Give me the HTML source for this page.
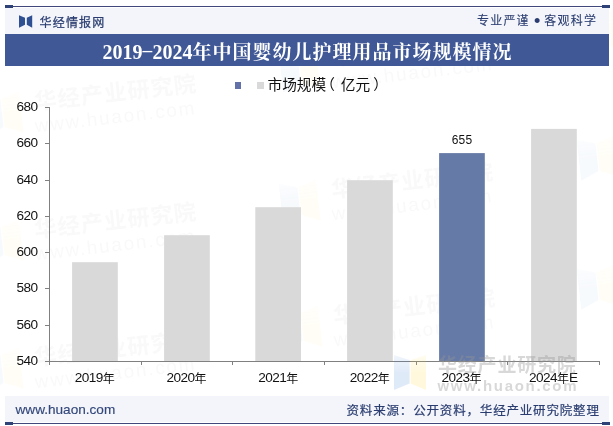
<!DOCTYPE html>
<html lang="zh-CN">
<head>
<meta charset="utf-8">
<title>2019-2024年中国婴幼儿护理用品市场规模情况</title>
<style>
html,body{margin:0;padding:0;background:#fff;overflow:hidden;}
body{width:613px;height:426px;position:relative;overflow:hidden;font-family:"Liberation Sans","Noto Sans CJK SC",sans-serif;color:#111;}
.abs{position:absolute;white-space:nowrap;}
#topline{left:5px;top:6px;width:604px;height:1px;background:#41487b;}
#topl{left:5px;top:5px;width:8px;height:3px;background:#2f4278;}
#topr{left:602px;top:5px;width:8px;height:3px;background:#2f4278;}
#hdr{left:5px;top:8px;width:604px;height:26px;background:#f3f5fa;}
#brand{left:39.5px;top:10px;height:26px;line-height:26px;font-size:12px;color:#2b3d70;letter-spacing:1.2px;-webkit-text-stroke:0.25px #2b3d70;}
#slogan{left:477px;top:8px;height:26px;line-height:26px;font-size:12px;color:#2b3d70;letter-spacing:1.2px;-webkit-text-stroke:0.1px #2b3d70;}
.dot{display:inline-block;width:14.5px;text-align:center;font-size:18px;letter-spacing:0;line-height:26px;vertical-align:top;position:relative;top:0px;}
#title{left:5px;top:34px;width:604px;height:32px;background:#405896;color:#fff;text-align:center;
  font-family:"Liberation Serif","Noto Serif CJK SC",serif;font-weight:bold;font-size:20px;line-height:36px;}
#title .cj{font-size:19px;letter-spacing:1px;margin-right:-1px;}
#title .hy{display:inline-block;width:10px;text-align:center;}
#title .hy i{display:inline-block;font-style:normal;transform:translateY(-2px) scale(1.9,0.7);}
.lg{width:6.5px;height:6.5px;top:82px;}
#lgtxt{left:267.5px;top:75px;font-size:14.67px;line-height:20px;color:#111;}
#lgtxt span{position:relative;}
.yl{left:0;width:37.5px;text-align:right;font-size:13.6px;letter-spacing:-0.55px;line-height:16px;}
.xl{width:92px;text-align:center;font-size:13.6px;letter-spacing:-0.55px;line-height:16px;top:370px;}
.xl .y{position:relative;top:0.5px;letter-spacing:0;font-size:12px;}
#dl{left:416px;width:92px;text-align:center;top:133px;font-size:12px;letter-spacing:0.1px;line-height:14px;}
#ftr{left:5px;top:396px;width:604px;height:26px;background:#f3f5fa;}
#site{left:15.5px;top:398px;height:24px;line-height:24px;font-size:13.6px;color:#33477a;-webkit-text-stroke:0.15px #33477a;}
#srcx{left:346.5px;top:399px;height:24px;line-height:24px;font-size:12.5px;letter-spacing:0.83px;color:#2b3d70;-webkit-text-stroke:0.2px #2b3d70;}
#botline{left:5px;top:423px;width:604px;height:1px;background:#41487b;}
#botl{left:5px;top:422px;width:8px;height:3px;background:#2f4278;}
#botr{left:602px;top:422px;width:8px;height:3px;background:#2f4278;}
.wm{position:absolute;width:186px;height:40px;white-space:nowrap;font-family:"Liberation Sans","Noto Sans CJK SC",sans-serif;font-weight:bold;color:rgba(150,150,150,0.37);transform-origin:0 50%;}
.wm svg{position:absolute;left:0;top:1px;opacity:0.17;}
.wm .t1{position:absolute;left:44px;top:0.5px;font-size:19px;letter-spacing:0.8px;line-height:22px;}
.wm .t2{position:absolute;left:43.5px;top:23px;font-size:15px;line-height:18px;letter-spacing:1.7px;}
.wf{opacity:0.15;transform:rotate(-6.5deg) scale(1.18);}
.wf svg{opacity:0.3;}
.wf .t2{font-weight:normal;font-size:16px;letter-spacing:1.55px;left:42px;}
#wmb{left:394px;top:354px;}
</style>
</head>
<body>
<svg width="0" height="0" style="position:absolute"><defs>
<linearGradient id="gb" x1="0" y1="0" x2="0" y2="1"><stop offset="0" stop-color="#4a86d8" stop-opacity="0.45"/><stop offset="0.5" stop-color="#4a86d8" stop-opacity="1"/><stop offset="1" stop-color="#4a86d8" stop-opacity="1"/></linearGradient>
<linearGradient id="gy" x1="0" y1="0" x2="0" y2="1"><stop offset="0" stop-color="#ffd83a" stop-opacity="0.45"/><stop offset="0.5" stop-color="#ffd83a" stop-opacity="1"/><stop offset="1" stop-color="#ffd83a" stop-opacity="1"/></linearGradient>
</defs></svg>
<div class="wm wf" style="left:-16px;top:98px"><svg width="32" height="36" viewBox="0 0 32 36"><path d="M0 0 L15.6 5 L15.6 28.5 L0 35 Z" fill="url(#gb)"/><path d="M32 0 L16.6 5 L16.6 28.5 L32 35 Z" fill="url(#gy)"/></svg><div class="t1">华经产业研究院</div><div class="t2">www.huaon.com</div></div>
<div class="wm wf" style="left:-16px;top:226px"><svg width="32" height="36" viewBox="0 0 32 36"><path d="M0 0 L15.6 5 L15.6 28.5 L0 35 Z" fill="url(#gb)"/><path d="M32 0 L16.6 5 L16.6 28.5 L32 35 Z" fill="url(#gy)"/></svg><div class="t1">华经产业研究院</div><div class="t2">www.huaon.com</div></div>
<div class="wm wf" style="left:-16px;top:354px"><svg width="32" height="36" viewBox="0 0 32 36"><path d="M0 0 L15.6 5 L15.6 28.5 L0 35 Z" fill="url(#gb)"/><path d="M32 0 L16.6 5 L16.6 28.5 L32 35 Z" fill="url(#gy)"/></svg><div class="t1">华经产业研究院</div><div class="t2">www.huaon.com</div></div>
<div class="wm wf" style="left:281px;top:54px"><svg width="32" height="36" viewBox="0 0 32 36"><path d="M0 0 L15.6 5 L15.6 28.5 L0 35 Z" fill="url(#gb)"/><path d="M32 0 L16.6 5 L16.6 28.5 L32 35 Z" fill="url(#gy)"/></svg><div class="t1">华经产业研究院</div><div class="t2">www.huaon.com</div></div>
<div class="wm wf" style="left:281px;top:186px"><svg width="32" height="36" viewBox="0 0 32 36"><path d="M0 0 L15.6 5 L15.6 28.5 L0 35 Z" fill="url(#gb)"/><path d="M32 0 L16.6 5 L16.6 28.5 L32 35 Z" fill="url(#gy)"/></svg><div class="t1">华经产业研究院</div><div class="t2">www.huaon.com</div></div>
<div class="wm wf" style="left:283px;top:312px"><svg width="32" height="36" viewBox="0 0 32 36"><path d="M0 0 L15.6 5 L15.6 28.5 L0 35 Z" fill="url(#gb)"/><path d="M32 0 L16.6 5 L16.6 28.5 L32 35 Z" fill="url(#gy)"/></svg><div class="t1">华经产业研究院</div><div class="t2">www.huaon.com</div></div>
<div class="wm wf" style="left:579px;top:14px"><svg width="32" height="36" viewBox="0 0 32 36"><path d="M0 0 L15.6 5 L15.6 28.5 L0 35 Z" fill="url(#gb)"/><path d="M32 0 L16.6 5 L16.6 28.5 L32 35 Z" fill="url(#gy)"/></svg><div class="t1">华经产业研究院</div><div class="t2">www.huaon.com</div></div>
<div class="wm wf" style="left:579px;top:142px"><svg width="32" height="36" viewBox="0 0 32 36"><path d="M0 0 L15.6 5 L15.6 28.5 L0 35 Z" fill="url(#gb)"/><path d="M32 0 L16.6 5 L16.6 28.5 L32 35 Z" fill="url(#gy)"/></svg><div class="t1">华经产业研究院</div><div class="t2">www.huaon.com</div></div>
<div class="wm wf" style="left:579px;top:271px"><svg width="32" height="36" viewBox="0 0 32 36"><path d="M0 0 L15.6 5 L15.6 28.5 L0 35 Z" fill="url(#gb)"/><path d="M32 0 L16.6 5 L16.6 28.5 L32 35 Z" fill="url(#gy)"/></svg><div class="t1">华经产业研究院</div><div class="t2">www.huaon.com</div></div>
<div class="abs" id="topline"></div>
<div class="abs" id="topl"></div>
<div class="abs" id="topr"></div>
<div class="abs" id="hdr"></div>
<svg class="abs" style="left:19px;top:15px" width="14" height="13" viewBox="0 0 14 13"><path d="M0 0.2 L6 2.8 L6 9.8 L0 12.7 Z M13.2 0.2 L7.8 2.8 L7.8 9.8 L13.2 12.7 Z" fill="#2f4f93"/></svg>
<div class="abs" id="brand">华经情报网</div>
<div class="abs" id="slogan">专业严谨<span class="dot">•</span>客观科学</div>
<div class="abs" id="title">2019<span class="hy"><i>-</i></span>2024<span class="cj">年中国婴幼儿护理用品市场规模情况</span></div>

<div class="abs lg" style="left:235px;width:6px;background:#6272a8"></div>
<div class="abs lg" style="left:257px;background:#d9d9d9"></div>
<div class="abs" id="lgtxt">市场规模<span style="left:-6px">（</span>亿元<span style="left:3px">）</span></div>

<svg class="abs" style="left:0;top:0" width="613" height="426" viewBox="0 0 613 426">
  <g fill="#d9d9d9">
    <rect x="72.1" y="262.2" width="45.7" height="98.8"/>
    <rect x="164.1" y="235.2" width="45.7" height="125.8"/>
    <rect x="255.3" y="207.2" width="45.7" height="153.8"/>
    <rect x="347.1" y="180.2" width="45.7" height="180.8"/>
    <rect x="439.1" y="153.1" width="45.7" height="207.9" fill="#667aa7"/>
    <rect x="531.1" y="128.9" width="45.7" height="232.1"/>
  </g>
  <g stroke="#808080" stroke-width="1" fill="none" shape-rendering="crispEdges">
    <path d="M49.5 107 V362 M45 361.5 H600"/>
    <path d="M45 107.5 H50 M45 143.5 H50 M45 180.5 H50 M45 216.5 H50 M45 252.5 H50 M45 288.5 H50 M45 325.5 H50 M45 361.5 H50"/>
    <path d="M49.5 361 V365 M141.5 361 V365 M232.5 361 V365 M324.5 361 V365 M416.5 361 V365 M507.5 361 V365 M599.5 361 V365"/>
  </g>
</svg>
<div class="abs yl" style="top:99px">680</div>
<div class="abs yl" style="top:135px">660</div>
<div class="abs yl" style="top:172px">640</div>
<div class="abs yl" style="top:208px">620</div>
<div class="abs yl" style="top:244px">600</div>
<div class="abs yl" style="top:280px">580</div>
<div class="abs yl" style="top:317px">560</div>
<div class="abs yl" style="top:353px">540</div>

<div class="abs xl" style="left:48.8px">2019<span class="y">年</span></div>
<div class="abs xl" style="left:140.5px">2020<span class="y">年</span></div>
<div class="abs xl" style="left:232.2px">2021<span class="y">年</span></div>
<div class="abs xl" style="left:323.8px">2022<span class="y">年</span></div>
<div class="abs xl" style="left:415.5px">2023<span class="y">年</span></div>
<div class="abs xl" style="left:507.2px">2024<span class="y">年</span>E</div>

<div class="abs" id="dl">655</div>
<div class="wm" id="wmb"><svg width="32" height="36" viewBox="0 0 32 36"><path d="M0 0 L15.6 5 L15.6 28.5 L0 35 Z" fill="url(#gb)"/><path d="M32 0 L16.6 5 L16.6 28.5 L32 35 Z" fill="url(#gy)"/></svg><div class="t1">华经产业研究院</div><div class="t2">www.huaon.com</div></div>
<div class="abs" id="ftr"></div>
<div class="abs" id="site">www.huaon.com</div>
<div class="abs" id="srcx">资料来源：公开资料，华经产业研究院整理</div>
<div class="abs" id="botline"></div>
<div class="abs" id="botl"></div>
<div class="abs" id="botr"></div>
</body>
</html>
